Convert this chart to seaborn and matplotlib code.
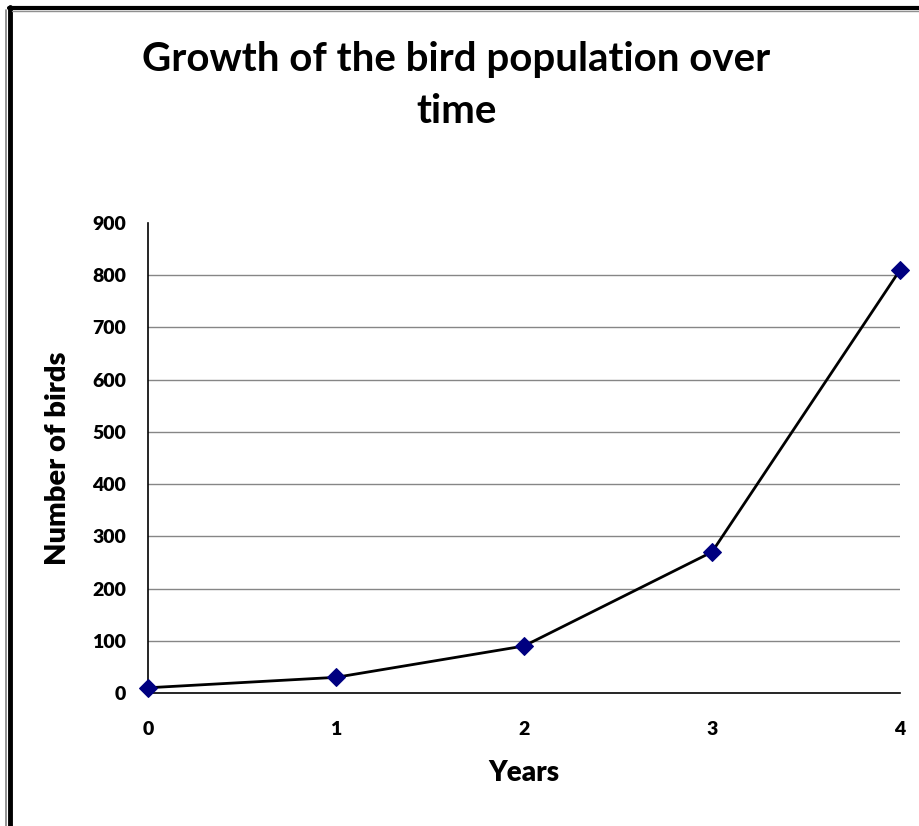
import matplotlib
matplotlib.use("Agg")
import matplotlib.pyplot as plt
from matplotlib.lines import Line2D
import seaborn as sns
import pandas as pd

# Bird counts per year
years = [0, 1, 2, 3, 4]
birds = [10, 30, 90, 270, 810]
y_ticks = [0, 100, 200, 300, 400, 500, 600, 700, 800, 900]

title = "Growth of the bird population over\ntime"
x_label = "Years"
y_label = "Number of birds"

sns.set_theme(style="white")
plt.rcParams["font.family"] = ["Lato", "DejaVu Sans"]
plt.rcParams["font.weight"] = "bold"
plt.rcParams["text.color"] = "black"
plt.rcParams["axes.labelcolor"] = "black"
plt.rcParams["xtick.color"] = "black"
plt.rcParams["ytick.color"] = "black"

df = pd.DataFrame({"year": years, "birds": birds})

fig = plt.figure(figsize=(9.2, 8.26), dpi=100)
fig.patch.set_facecolor("white")
ax = fig.add_axes([148 / 920, 1 - 693 / 826, (900 - 148) / 920, (693 - 223) / 826])

sns.lineplot(data=df, x="year", y="birds", ax=ax, color="black", linewidth=2.0,
             marker="D", markersize=9, markerfacecolor="#000080",
             markeredgecolor="#000080", clip_on=False, zorder=3)

ax.set_xlim(0, 4)
ax.set_ylim(0, 900)
ax.set_xticks(years)
ax.set_yticks(y_ticks)
ax.set_xticklabels([str(v) for v in years], fontsize=14, fontweight="heavy", color="black")
ax.set_yticklabels([str(v) for v in y_ticks], fontsize=14, fontweight="heavy", color="black")

for v in y_ticks[1:-1]:
    ax.axhline(v, color="#868686", linewidth=1.0, zorder=1)

for side in ("top", "right"):
    ax.spines[side].set_visible(False)
for side in ("left", "bottom"):
    ax.spines[side].set_color("black")
    ax.spines[side].set_linewidth(1.2)

ax.tick_params(axis="y", direction="out", length=7, width=1, color="#555555", pad=9)
ax.tick_params(axis="x", direction="out", length=5, width=1, color="#888888", pad=15)

ax.set_xlabel(x_label, fontsize=20, fontweight="heavy", labelpad=16, color="black")
ax.set_ylabel(y_label, fontsize=21, fontweight="heavy", labelpad=15, color="black")

fig.text(0.496, 0.897, title, ha="center", va="center", fontsize=29,
         fontweight="bold", linespacing=1.5, color="black")

# Border lines around the chart area
fig.add_artist(Line2D([6.5 / 920, 6.5 / 920], [0, 1 - 10 / 826], color="#808080", linewidth=1.2))
fig.add_artist(Line2D([10.5 / 920, 10.5 / 920], [0, 1 - 7 / 826], color="black", linewidth=3.5))
fig.add_artist(Line2D([9 / 920, 1], [1 - 7.5 / 826, 1 - 7.5 / 826], color="black", linewidth=3.0))
fig.add_artist(Line2D([12 / 920, 1], [1 - 10.5 / 826, 1 - 10.5 / 826], color="#909090", linewidth=1.0))

fig.savefig("out.png", dpi=100)
